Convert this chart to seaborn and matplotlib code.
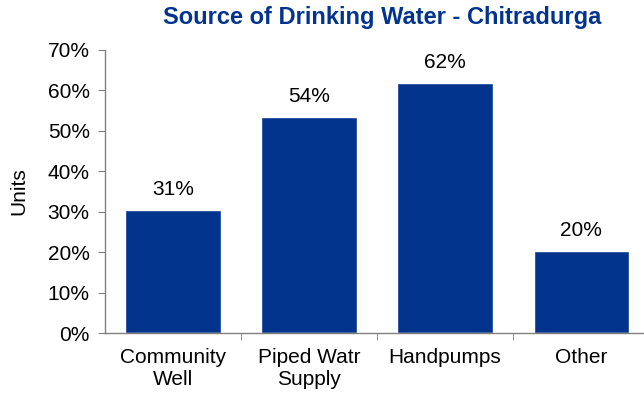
import pandas as pd
import matplotlib.pyplot as plt
import seaborn as sns

categories = ["Community\nWell", "Piped Watr\nSupply", "Handpumps", "Other"]
shares = [30.4, 53.5, 61.9, 20.3]
labels = ["31%", "54%", "62%", "20%"]
yticks = [0, 10, 20, 30, 40, 50, 60, 70]

df = pd.DataFrame({"Source": categories, "Share": shares})

sns.set_style("white")
plt.rcParams['font.family'] = ['Liberation Sans', 'DejaVu Sans']
plt.rcParams['text.color'] = 'black'
plt.rcParams['xtick.labelcolor'] = 'black'
plt.rcParams['ytick.labelcolor'] = 'black'
plt.rcParams['axes.labelcolor'] = 'black'

fig = plt.figure(figsize=(6.44, 3.96), dpi=100)
ax = fig.add_axes([0.163, 0.159, 0.845, 0.715])

sns.barplot(x="Source", y="Share", data=df, color="#02348E", width=0.7,
            saturation=1, ax=ax)

for i, (v, lab) in enumerate(zip(shares, labels)):
    ax.annotate(lab, (i, v), xytext=(0, 8), textcoords="offset points",
                ha="center", va="bottom", fontsize=15, color="black")

ax.set_ylim(0, 70)
ax.set_xlim(-0.5, 3.5)
ax.set_yticks(yticks)
ax.set_yticklabels([f"{t}%" for t in yticks], fontsize=15)
ax.set_xticks(range(len(categories)))
ax.set_xticklabels(categories, fontsize=15, linespacing=1.15)
ax.set_xticks([0.5, 1.5, 2.5], minor=True)
ax.tick_params(axis="x", which="major", length=0, pad=11)
ax.tick_params(axis="x", which="minor", length=5, color="#808080", direction="out", bottom=True)
ax.tick_params(axis="y", length=5, color="#808080", direction="out", left=True, pad=6)
ax.set_xlabel("")
ax.set_ylabel("Units", fontsize=15, labelpad=14)

for s in ["top", "right"]:
    ax.spines[s].set_visible(False)
for s in ["left", "bottom"]:
    ax.spines[s].set_color("#808080")
    ax.spines[s].set_linewidth(1)

fig.text(0.593, 0.957, "Source of Drinking Water - Chitradurga", ha="center", va="center",
         fontsize=17, fontweight="bold", color="#02348E")

plt.savefig("out.png", dpi=100)
